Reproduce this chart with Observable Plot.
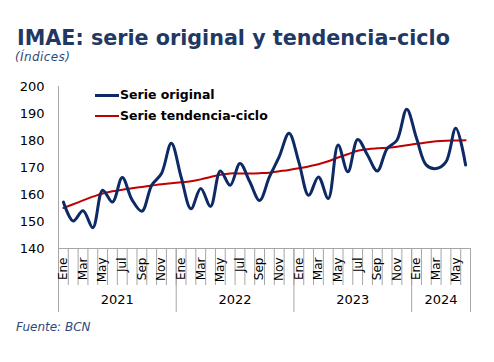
<!DOCTYPE html>
<html>
<head>
<meta charset="utf-8">
<script src="https://cdn.jsdelivr.net/npm/d3@7"></script>
<script src="https://cdn.jsdelivr.net/npm/@observablehq/plot@0.6"></script>
<style>
  html, body { margin: 0; padding: 0; background: #fff; }
  body { width: 494px; height: 362px; position: relative; font-family: "DejaVu Sans", Verdana, sans-serif; overflow: hidden; }
  #title { position: absolute; left: 17px; top: 27.5px; font-size: 20.7px; line-height: 20.7px; font-weight: bold; color: #1F3864; white-space: nowrap; }
  #subtitle { position: absolute; left: 15px; top: 51px; font-size: 12px; line-height: 12px; letter-spacing: 0.4px; font-style: italic; color: #2E4A7D; }
  #chart { position: absolute; left: 0; top: 62px; }
  #legend { position: absolute; left: 95px; top: 87px; font-size: 12.5px; font-weight: bold; color: #000; }
  .item { position: relative; height: 21px; line-height: 16px; white-space: nowrap; }
  .sw { position: absolute; left: 0; top: 7px; width: 24px; }
  .lbl { position: absolute; left: 25px; top: 0; }
  #footer { position: absolute; left: 16px; top: 321px; font-size: 12px; line-height: 12px; font-style: italic; color: #2E4A7D; }
</style>
</head>
<body>
<div id="title">IMAE: serie original y tendencia-ciclo</div>
<div id="subtitle">(Índices)</div>
<div id="chart"></div>
<div id="legend"></div>
<div id="footer">Fuente: BCN</div>
<script>
// ---- data ----
const meses = ["Ene","Feb","Mar","Abr","May","Jun","Jul","Ago","Sep","Oct","Nov","Dic"];
const anios = ["2021","2022","2023","2024"];
const mesesPorAnio = [12, 12, 12, 6];
const serieOriginal = [157.2, 150.2, 154.0, 147.7, 161.6, 157.2, 166.3, 158.0, 153.8, 163.4, 167.8, 179.0,
                       166.5, 154.7, 162.2, 155.6, 168.7, 163.4, 171.5, 164.7, 157.8, 166.5, 174.0, 182.7,
                       172.0, 159.7, 166.5, 158.5, 178.3, 168.4, 180.4, 174.6, 168.7, 177.0, 180.1, 191.6,
                       180.8, 170.9, 169.6, 172.1, 184.5, 170.9];
const serieTendencia = [155.0, 156.4, 157.8, 159.2, 160.4, 161.2, 161.8, 162.3, 162.8, 163.3, 163.8, 164.2,
                        164.5, 164.9, 165.6, 166.5, 167.3, 167.8, 167.8, 167.8, 167.9, 168.1, 168.6, 169.1,
                        169.7, 170.4, 171.2, 172.3, 173.7, 174.9, 176.2, 176.8, 177.1, 177.3, 177.7, 178.2,
                        178.8, 179.3, 179.7, 179.9, 180.0, 180.1];
const yTicks = [140, 150, 160, 170, 180, 190, 200];
const series = [
  {name: "Serie original", values: serieOriginal, color: "#0E2A66", width: 3},
  {name: "Serie tendencia-ciclo", values: serieTendencia, color: "#C00000", width: 2}
];

// ---- derived tables ----
const n = serieOriginal.length;
const rows = [];
series.forEach(s => s.values.forEach((v, i) => rows.push({serie: s.name, i: i + 0.5, v})));
const monthBounds = d3.range(0, n + 1);
const yearBounds = [0];
mesesPorAnio.forEach(c => yearBounds.push(yearBounds[yearBounds.length - 1] + c));
const yearCenters = anios.map((a, k) => ({a, x: (yearBounds[k] + yearBounds[k + 1]) / 2}));
const labelTicks = d3.range(0, n, 2).map(i => i + 0.5);

const gray = "#A6A6A6";
const chart = Plot.plot({
  width: 494,
  height: 256,
  marginLeft: 58,
  marginRight: 24,
  marginTop: 24,
  marginBottom: 70,
  style: {fontFamily: "DejaVu Sans, Verdana, sans-serif", color: "#000", background: "transparent"},
  x: {domain: [0, n], axis: null},
  y: {domain: [140, 200], axis: null},
  color: {domain: series.map(s => s.name), range: series.map(s => s.color)},
  marks: [
    Plot.axisY({ticks: yTicks, tickSize: 0, tickPadding: 14, fontSize: 13, label: null, tickFormat: d => d}),
    Plot.ruleX([0], {stroke: gray, strokeWidth: 1}),
    Plot.ruleY([140], {stroke: gray, strokeWidth: 1}),
    Plot.axisX({ticks: monthBounds, tickSize: 37, stroke: gray, tickFormat: () => "", label: null}),
    Plot.axisX({ticks: yearBounds, tickSize: 64, stroke: gray, tickFormat: () => "", label: null}),
    Plot.axisX({ticks: labelTicks, tickSize: 0, tickPadding: 9, tickRotate: -90, fontSize: 12,
                tickFormat: d => meses[Math.floor(d) % 12], label: null}),
    Plot.text(yearCenters, {x: "x", text: "a", frameAnchor: "bottom", dy: 55, fontSize: 13, fill: "#000"}),
    Plot.line(rows.filter(r => r.serie === series[1].name), {x: "i", y: "v", stroke: series[1].color, strokeWidth: series[1].width, curve: "catmull-rom"}),
    Plot.line(rows.filter(r => r.serie === series[0].name), {x: "i", y: "v", stroke: series[0].color, strokeWidth: series[0].width, curve: "catmull-rom"})
  ]
});
document.getElementById("chart").appendChild(chart);

// legend
const leg = document.getElementById("legend");
series.forEach(s => {
  const it = document.createElement("div");
  it.className = "item";
  it.innerHTML = `<div class="sw" style="border-top:${s.width}px solid ${s.color}"></div><div class="lbl">${s.name}</div>`;
  leg.appendChild(it);
});
</script>
</body>
</html>
